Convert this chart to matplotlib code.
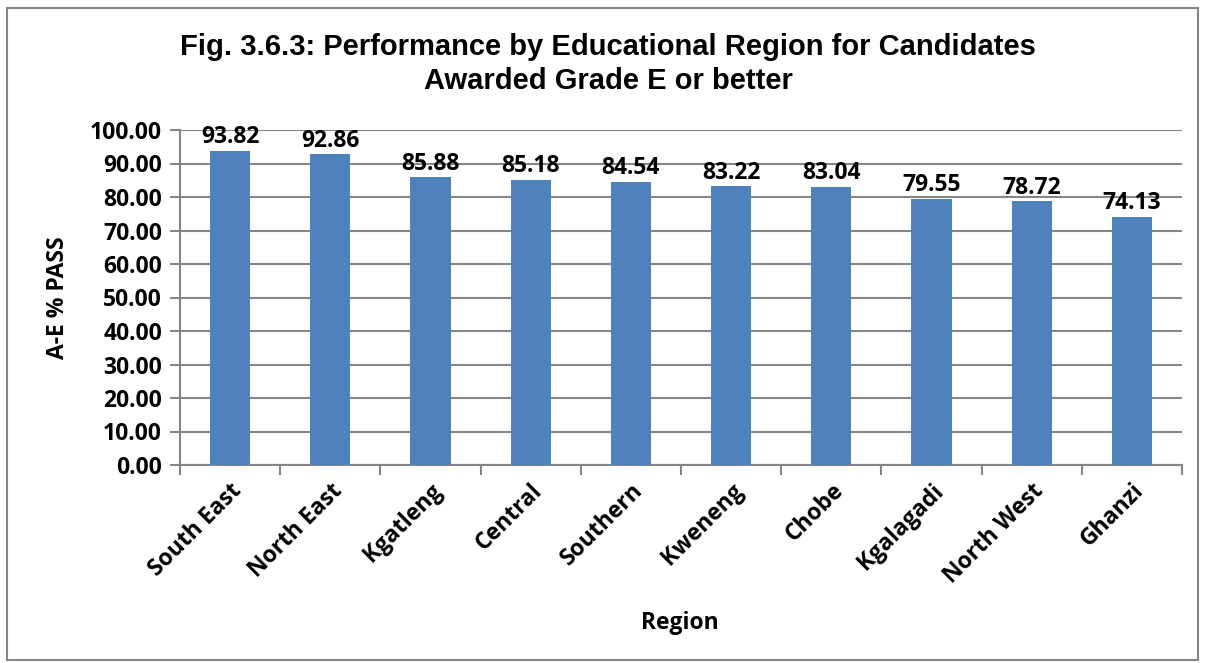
import matplotlib.pyplot as plt
from matplotlib.patches import Rectangle

# Dados
regions = ['South East', 'North East', 'Kgatleng', 'Central', 'Southern',
           'Kweneng', 'Chobe', 'Kgalagadi', 'North West', 'Ghanzi']
pass_rate = [93.82, 92.86, 85.88, 85.18, 84.54, 83.22, 83.04, 79.55, 78.72, 74.13]
y_ticks = [0, 10, 20, 30, 40, 50, 60, 70, 80, 90, 100]

FONT = 'Open Sans'
FS = 16.5

fig = plt.figure(figsize=(12.05, 6.63), dpi=100)
ax = fig.add_axes([180 / 1205, 1 - 465 / 663, 1002 / 1205, 335 / 663])

# Moldura externa do gráfico
fig.patches.append(Rectangle((7 / 1205, 3 / 663), 1191 / 1205, 652 / 663,
                             transform=fig.transFigure, fill=False,
                             edgecolor='#868686', linewidth=1.5))

x = range(len(regions))
ax.bar(x, pass_rate, width=0.4, color='#4F81BD', zorder=3)

for i, v in enumerate(pass_rate):
    ax.text(i, v + 0.4, f'{v:.2f}', ha='center', va='bottom', fontsize=FS,
            fontweight='bold', family=FONT, color='black')

ax.set_xlim(-0.5, len(regions) - 0.5)
ax.set_ylim(0, 100)
ax.set_yticks(y_ticks)
ax.set_yticklabels([f'{t:.2f}' for t in y_ticks], fontsize=FS, fontweight='bold', family=FONT)
ax.set_xticks(list(x))
ax.set_xticklabels(regions, rotation=45, ha='right', rotation_mode='anchor',
                   fontsize=FS, fontweight='bold', family=FONT)
ax.tick_params(axis='x', length=0, pad=10)
ax.set_xticks([i - 0.5 for i in range(len(regions) + 1)], minor=True)
ax.tick_params(axis='x', which='minor', length=7, color='#868686', width=1.5)
ax.tick_params(axis='y', length=7, color='#868686', width=1.5, pad=6)

ax.grid(axis='y', color='#868686', linewidth=1.5, zorder=0)
for s in ['top', 'right']:
    ax.spines[s].set_visible(False)
for s in ['left', 'bottom']:
    ax.spines[s].set_color('#868686')
    ax.spines[s].set_linewidth(1.5)

fig.text(0.5 * (178 + 1038) / 1205, 1 - 64 / 663,
         'Fig. 3.6.3: Performance by Educational Region for Candidates\nAwarded Grade E or better',
         ha='center', va='center', fontsize=21, fontweight='bold', family='Liberation Sans',
         linespacing=1.25)
fig.text(680 / 1205, 1 - 623 / 663, 'Region', ha='center', va='center',
         fontsize=FS, fontweight='bold', family=FONT)
fig.text(58 / 1205, 1 - 298 / 663, 'A-E % PASS', ha='center', va='center', rotation=90,
         fontsize=FS, fontweight='bold', family=FONT)

plt.savefig('out.png', dpi=100)
